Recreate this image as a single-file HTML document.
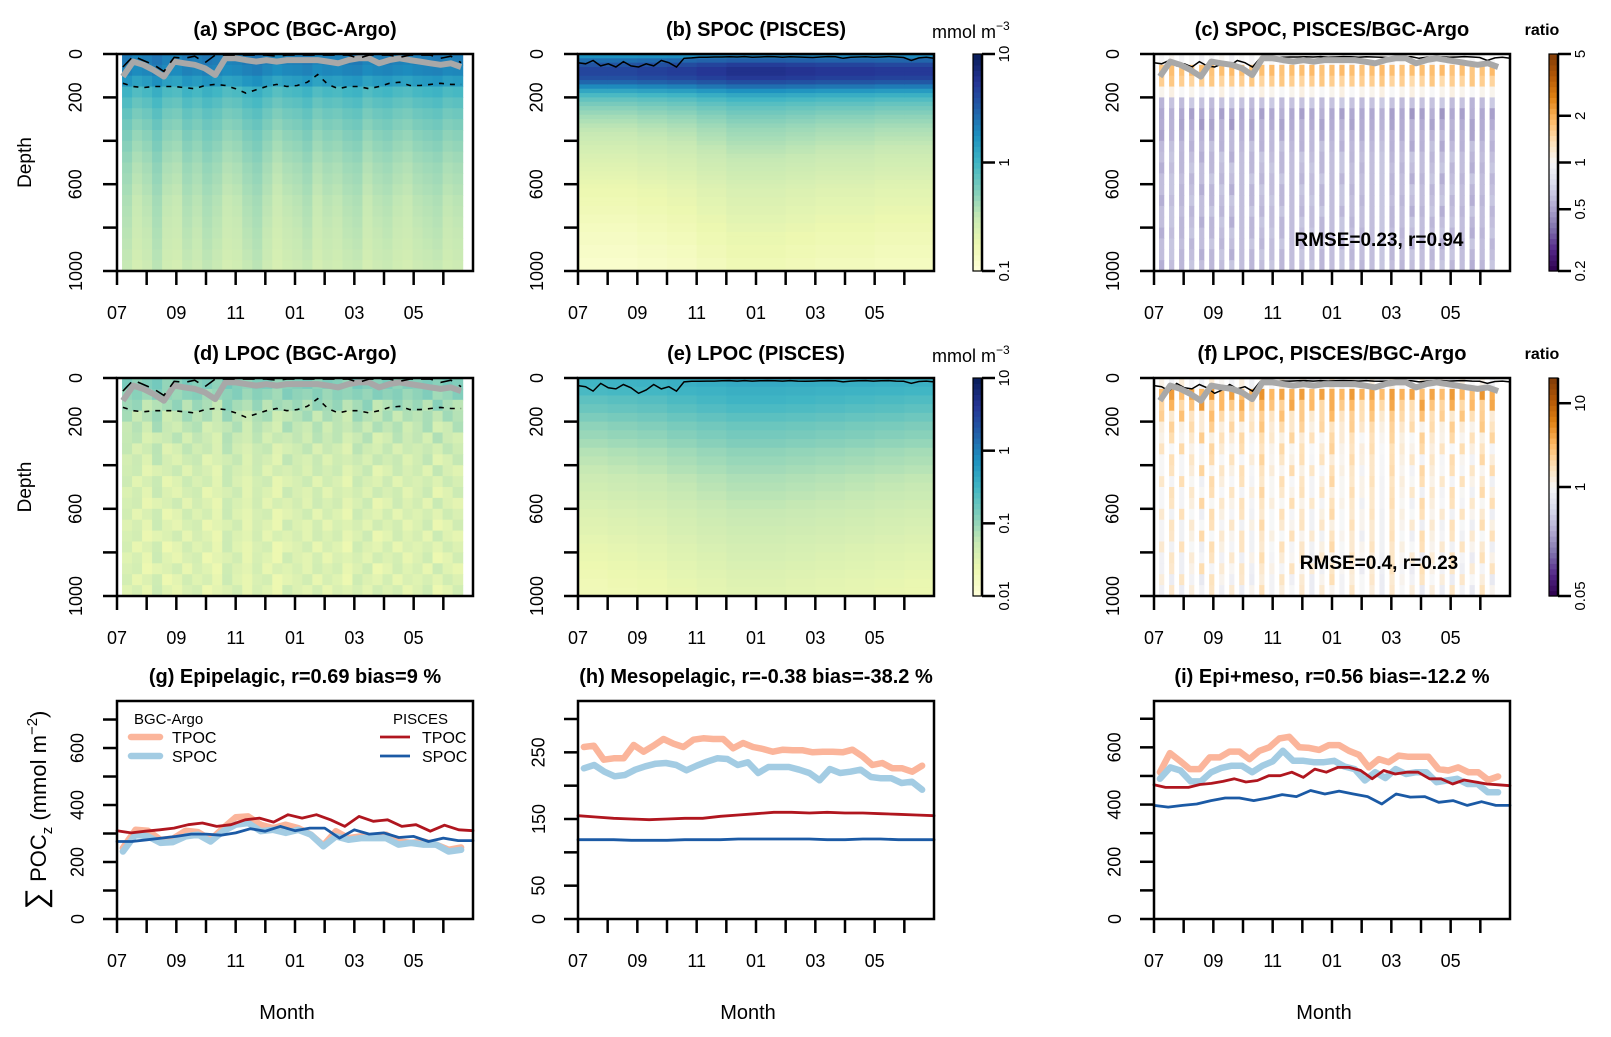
<!DOCTYPE html>
<html><head><meta charset="utf-8">
<style>
html,body{margin:0;padding:0;background:#fff;}
svg{display:block;font-family:"Liberation Sans",Arial,sans-serif;}
</style></head>
<body>
<svg id="fig" width="1611" height="1037" viewBox="0 0 1611 1037" xmlns="http://www.w3.org/2000/svg"></svg>
<script>
// ---------- DATA ----------
const monthLabels = ["07","09","11","01","03","05"];
const depthLabels = ["0","200","","600","","1000"];
const depthTicks = [0,200,400,600,800,1000];

// SPOC BGC-Argo (mmol m-3): depth profile (50 m bins) and column modulation
const spocArgoProfile = [2.2,2.0,1.5,0.95,0.78,0.66,0.58,0.52,0.48,0.44,0.41,0.39,0.37,0.35,0.34,0.33,0.32,0.31,0.3,0.29];
const spocArgoCol = [1.1,0.9,1.0,1.2,0.95,0.9,1.1,1.0,1.15,1.05,0.9,0.95,1.1,1.2,1.0,0.85,0.95,1.0,1.1,0.9,1.0,0.95,1.05,1.1,0.9,1.0,1.05,0.95,0.9,1.0,1.05,1.1,0.95,1.0];
// SPOC PISCES (20 m bins) and monthly modulation
const spocPiscesProfile = [2.0,3.0,4.5,5.5,5.5,4.8,3.6,2.4,1.6,1.15,0.9,0.75,0.65,0.58,0.52,0.48,0.44,0.41,0.39,0.37,0.35,0.33,0.32,0.3,0.29,0.28,0.27,0.26,0.25,0.24,0.23,0.22,0.22,0.21,0.21,0.2,0.2,0.19,0.19,0.18,0.18,0.17,0.17,0.17,0.16,0.16,0.16,0.15,0.15,0.15];
const spocPiscesCol = [0.8,0.8,0.85,0.9,1,1.1,1.1,1.05,1,1,0.95,0.95];
// LPOC BGC-Argo
const lpocArgoProfile = [0.13,0.11,0.085,0.07,0.06,0.053,0.048,0.045,0.042,0.04,0.039,0.038,0.037,0.036,0.036,0.035,0.035,0.035,0.035,0.035];
const lpocArgoCol = [1.3,0.7,1.0,1.5,0.6,0.8,1.4,0.9,1.2,0.7,1.6,0.9,0.7,1.1,1.3,0.6,0.8,1.0,1.4,0.7,1.2,0.9,0.6,1.5,1.0,0.8,1.3,0.7,1.1,0.9,1.2,0.8,1.4,1.0];
// LPOC PISCES
const lpocPiscesProfile = [0.4,0.35,0.3,0.25,0.2,0.16,0.14,0.12,0.1,0.09,0.08,0.07,0.065,0.06,0.055,0.05,0.047,0.044,0.041,0.038,0.036,0.034,0.032,0.03,0.029];
const lpocPiscesCol = [0.7,0.75,0.8,0.9,1.0,1.1,1.1,1.05,1.0,0.95,0.9,0.85];
// Ratios PISCES/BGC-Argo
const spocRatioProfile = [1.0,1.8,1.6,1.05,0.62,0.52,0.53,0.56,0.58,0.6,0.6,0.6,0.6,0.6,0.6,0.6,0.6,0.6,0.6,0.6];
const spocRatioCol = [1,1.05,0.95,1,0.9,0.95,1.05,0.9,1,0.95,1.05,1,0.95,1,1.05,1,0.95,1,1.05,0.95,1,1,1.05,0.95,1,1.05,1,0.95,1,1.05,1,0.95,1,1];
const lpocRatioProfile = [1.0,3.5,2.5,1.8,1.5,1.35,1.25,1.2,1.2,1.15,1.15,1.15,1.1,1.1,1.1,1.1,1.05,1.05,1.0,1.0];
const lpocRatioCol = [1.3,0.8,1.6,0.9,0.75,1.7,1.1,0.85,1.5,0.8,1.3,0.9,1.6,0.85,1.4,0.8,1.1,1.8,0.9,1.3,1.0,1.5,0.8,1.4,1.1,0.9,1.6,1.0,1.3,0.8,1.5,1.0,1.3,0.75];

// overlay depths (m)
const euphoticDepth = [104,35,50,74,104,35,43,50,66,97,20,20,28,35,28,35,28,28,28,28,35,43,28,20,20,43,28,20,28,35,43,50,43,60];
const mldDash = [60,10,30,50,80,15,20,10,40,5,5,5,5,5,5,10,5,5,5,5,5,5,5,20,5,5,5,15,5,5,5,20,10,40];
const mldDot = [135,150,155,150,150,150,155,160,145,140,145,160,180,165,150,140,150,145,130,95,140,160,150,150,160,150,135,130,145,145,140,135,140,140];
const mldPisces = [40,45,30,55,45,60,35,55,60,45,55,30,40,60,20,18,15,15,14,14,13,14,12,15,14,12,13,15,13,14,15,16,14,12,13,20,15,14,13,15,14,12,14,16,30,18,15,20];
const mldPiscesL = [35,40,60,25,45,50,30,45,70,55,30,50,40,60,18,15,15,14,14,13,12,14,12,14,13,12,13,14,12,14,15,14,13,12,13,18,14,13,12,14,13,12,14,15,25,16,14,18];

// integrated POC (mmol m-2)
const gArgoT = [249,313,310,278,282,310,305,278,319,357,360,331,319,331,319,296,258,308,284,290,290,296,272,267,272,261,243,251];
const gArgoS = [237,296,290,267,270,290,296,272,308,331,337,308,313,302,313,296,255,290,278,284,284,284,261,267,261,261,237,243];
const gPisT = [310,302,308,313,319,331,337,325,331,348,354,340,366,354,366,348,325,360,343,348,325,331,308,329,313,310];
const gPisS = [272,272,278,284,290,298,298,294,302,317,308,325,310,319,319,284,313,298,302,286,290,272,284,275,275];
const hArgoT = [258,260,239,241,241,261,251,260,270,263,258,269,271,270,270,256,264,258,255,251,254,253,253,250,251,251,250,254,244,231,234,226,226,221,230];
const hArgoS = [226,231,221,214,216,224,229,233,234,231,223,230,236,241,240,231,235,219,228,228,228,224,219,208,225,219,221,224,213,211,211,204,206,194];
const hPisT = [155,153,151,150,149,150,151,151,154,156,158,160,160,159,160,159,159,158,157,156,155];
const hPisS = [119,119,119,118,118,118,119,119,119,120,120,120,120,120,119,119,120,120,119,119,119];
const iArgoT = [513,580,553,524,524,565,565,585,585,559,588,600,631,637,600,598,591,608,608,588,574,530,559,548,571,567,567,567,524,519,530,513,513,486,498];
const iArgoS = [490,530,519,481,481,513,528,536,536,513,536,551,588,553,553,548,548,553,533,524,484,513,493,524,507,513,513,478,484,490,472,472,443,443];
const iPisT = [469,460,460,460,470,474,481,490,479,484,501,501,513,495,524,513,530,530,519,490,519,507,513,513,490,490,472,486,479,472,469,466];
const iPisS = [397,391,397,402,414,423,423,414,423,435,428,449,437,447,437,428,402,437,426,428,408,414,397,410,397,397];

// ---------- HELPERS ----------
const svg = document.getElementById('fig');
const NS = 'http://www.w3.org/2000/svg';
function mk(tag, attrs, parent){ const e=document.createElementNS(NS,tag); for(const k in attrs) e.setAttribute(k,attrs[k]); (parent||svg).appendChild(e); return e; }
function txt(s, x, y, size, opts, parent){ opts=opts||{}; const t=mk('text',{x:x,y:y,'font-size':size,'text-anchor':opts.anchor||'middle','font-weight':opts.bold?'bold':'normal',fill:'#000'},parent); if(opts.rot) t.setAttribute('transform','rotate('+opts.rot+' '+x+' '+y+')'); t.textContent=s; return t; }
function hex2rgb(h){return [parseInt(h.substr(1,2),16),parseInt(h.substr(3,2),16),parseInt(h.substr(5,2),16)];}
function ramp(stops, f){ f=Math.max(0,Math.min(1,f)); const p=f*(stops.length-1); const i=Math.min(stops.length-2,Math.floor(p)); const u=p-i; const a=hex2rgb(stops[i]), b=hex2rgb(stops[i+1]); return 'rgb('+a.map((v,k)=>Math.round(v+(b[k]-v)*u)).join(',')+')'; }
const YGB = ['#ffffd9','#edf8b1','#c7e9b4','#7fcdbb','#41b6c4','#1d91c0','#225ea8','#253494','#081d58'];
const PUOR = ['#2d004b','#542788','#8073ac','#b2abd2','#d8daeb','#f7f7f7','#fee0b6','#fdb863','#e08214','#b35806','#7f3b08'];

const COLS = [[117,473],[578,934],[1154,1510]];
const ROWS = [[54,271],[378,596],[701,919]];

function xScale(c){ const [a,b]=COLS[c]; return t=>a+t/12*(b-a); }
function dScale(r){ const [a,b]=ROWS[r]; return d=>a+d/1000*(b-a); }

function monthAxis(c, r, g){
  const xs=xScale(c); const yb=ROWS[r][1];
  for(let m=0;m<12;m++){ const x=xs(m); mk('line',{x1:x,y1:yb,x2:x,y2:yb+14,stroke:'#000','stroke-width':2.5},g); }
  monthLabels.forEach((l,i)=>{ const tl=txt(l, xs(i*2), yb+48, 18, {}, g);
      });
}
function depthAxis(c, r, g){
  const ds=dScale(r); const xl=COLS[c][0];
  depthTicks.forEach((d,i)=>{ const y=ds(d); mk('line',{x1:xl-14,y1:y,x2:xl,y2:y,stroke:'#000','stroke-width':2.5},g);
    if(depthLabels[i]) txt(depthLabels[i], xl-40, y, 18, {rot:-90}, g).setAttribute('dominant-baseline','middle'); });
}
function box(c,r,g){ mk('rect',{x:COLS[c][0],y:ROWS[r][0],width:COLS[c][1]-COLS[c][0],height:ROWS[r][1]-ROWS[r][0],fill:'none',stroke:'#000','stroke-width':2.5},g); }
function title(s,c,r,g){ const t=txt(s,(COLS[c][0]+COLS[c][1])/2,ROWS[r][0]-18,20,{bold:true},g);   }

function heatmap(g, c, r, profile, colF, t0, t1, colorFn, stripe, expo){
  const xs=xScale(c), ds=dScale(r); const nb=profile.length, nc=colF.length; const dt=(t1-t0)/nc; const dz=1000/nb;
  const ex = expo||1;
  for(let i=0;i<nc;i++){
    const xa=xs(t0+i*dt), xb=xs(t0+(i+1)*dt); const w=(xb-xa)*(stripe?0.52:1)+(stripe?0:0.6);
    for(let j=0;j<nb;j++){
      const f = colF[(i + (j%3===1 ? 7 : (j%3===2 ? 13 : 0)) * (stripe||ex<1 ? 1 : 0)) % nc];
      const v=profile[j]*Math.pow(f, (j<2?0.6:1)*ex);
      const ya=ds(j*dz), yb=ds((j+1)*dz);
      const cell=mk('rect',{x:xa,y:ya,width:w,height:yb-ya+0.6,fill:colorFn(v)},g);
      
      
    }
  }
}
function depthLine(g, c, r, arr, t0, t1, style){
  const xs=xScale(c), ds=dScale(r); const n=arr.length;
  const pts=arr.map((d,i)=>xs(t0+(t1-t0)*i/(n-1)).toFixed(1)+','+ds(d).toFixed(1)).join(' ');
  return mk('polyline',Object.assign({points:pts,fill:'none'},style),g);
}
function seriesLine(g, c, r, arr, t0, t1, ymax, style){
  const xs=xScale(c); const [ya,yb]=ROWS[r]; const ys=v=>yb-v/ymax*(yb-ya); const n=arr.length;
  const pts=arr.map((v,i)=>xs(t0+(t1-t0)*i/(n-1)).toFixed(1)+','+ys(v).toFixed(1)).join(' ');
  return mk('polyline',Object.assign({points:pts,fill:'none','stroke-linejoin':'round','stroke-linecap':'round'},style),g);
}
function colorbar(x, r, colorFn, n, ticks, g, name){
  const [ya,yb]=ROWS[r]; const h=(yb-ya)/n;
  const cb=mk('g',{},g);  
  for(let i=0;i<n;i++) mk('rect',{x:x,y:yb-(i+1)*h,width:9,height:h+0.6,fill:colorFn((i+0.5)/n)},cb);
  mk('rect',{x:x,y:ya,width:9,height:yb-ya,fill:'none',stroke:'#000','stroke-width':1.2},cb);
  mk('line',{x1:x+9,y1:ya,x2:x+9,y2:yb,stroke:'#000','stroke-width':2.5},cb);
  ticks.forEach(([f,l])=>{ const y=yb-f*(yb-ya); mk('line',{x1:x+9,y1:y,x2:x+22,y2:y,stroke:'#000','stroke-width':2.5},cb);
    const t=txt(l,x+32,y,15,{rot:-90},cb); t.setAttribute('dominant-baseline','middle'); });
}

const yg3 = v=>ramp(YGB,(Math.log10(v)+1)/2);
const yg4 = v=>ramp(YGB,(Math.log10(v)+2)/3);
const pr5 = v=>ramp(PUOR,0.5+Math.log10(v)/(2*Math.log10(5)));
const pr20 = v=>ramp(PUOR,0.5+Math.log10(v)/(2*Math.log10(20)));

function heatPanel(name, c, r, ttl, profile, colF, t0, t1, colorFn, stripe, expo){
  const g=mk('g',{});  
  heatmap(g,c,r,profile,colF,t0,t1,colorFn,stripe,expo);
  title(ttl,c,r,g); return g;
}
// (a)
let g=heatPanel('panel-a-spoc-argo',0,0,'(a) SPOC (BGC-Argo)',spocArgoProfile,spocArgoCol,0.17,11.65,yg3,false);
depthLine(g,0,0,euphoticDepth,0.2,11.6,{stroke:'#a8a8a8','stroke-width':6,'stroke-linejoin':'round'});
depthLine(g,0,0,mldDash,0.2,11.6,{stroke:'#000','stroke-width':1.6,'stroke-dasharray':'12 8'});
depthLine(g,0,0,mldDot,0.2,11.6,{stroke:'#000','stroke-width':1.6,'stroke-dasharray':'5 6'});
box(0,0,g); depthAxis(0,0,g); monthAxis(0,0,g);
// (b)
g=heatPanel('panel-b-spoc-pisces',1,0,'(b) SPOC (PISCES)',spocPiscesProfile,spocPiscesCol,0,12,yg3,false);
depthLine(g,1,0,mldPisces,0,12,{stroke:'#000','stroke-width':1.5});
box(1,0,g); depthAxis(1,0,g); monthAxis(1,0,g);
// (c)
g=heatPanel('panel-c-spoc-ratio',2,0,'(c) SPOC, PISCES/BGC-Argo',spocRatioProfile,spocRatioCol,0.17,11.65,pr5,true);
depthLine(g,2,0,mldPisces,0,12,{stroke:'#000','stroke-width':1.5});
depthLine(g,2,0,euphoticDepth,0.2,11.6,{stroke:'#a8a8a8','stroke-width':6,'stroke-linejoin':'round'});
box(2,0,g); depthAxis(2,0,g); monthAxis(2,0,g);
let st=txt('RMSE=0.23, r=0.94',1379,246,19,{bold:true},g);  
// (d)
g=heatPanel('panel-d-lpoc-argo',0,1,'(d) LPOC (BGC-Argo)',lpocArgoProfile,lpocArgoCol,0.17,11.65,yg4,false,0.75);
depthLine(g,0,1,euphoticDepth,0.2,11.6,{stroke:'#a8a8a8','stroke-width':6,'stroke-linejoin':'round'});
depthLine(g,0,1,mldDash,0.2,11.6,{stroke:'#000','stroke-width':1.6,'stroke-dasharray':'12 8'});
depthLine(g,0,1,mldDot,0.2,11.6,{stroke:'#000','stroke-width':1.6,'stroke-dasharray':'5 6'});
box(0,1,g); depthAxis(0,1,g); monthAxis(0,1,g);
// (e)
g=heatPanel('panel-e-lpoc-pisces',1,1,'(e) LPOC (PISCES)',lpocPiscesProfile,lpocPiscesCol,0,12,yg4,false);
depthLine(g,1,1,mldPiscesL,0,12,{stroke:'#000','stroke-width':1.5});
box(1,1,g); depthAxis(1,1,g); monthAxis(1,1,g);
// (f)
g=heatPanel('panel-f-lpoc-ratio',2,1,'(f) LPOC, PISCES/BGC-Argo',lpocRatioProfile,lpocRatioCol,0.17,11.65,pr20,true);
depthLine(g,2,1,mldPiscesL,0,12,{stroke:'#000','stroke-width':1.5});
depthLine(g,2,1,euphoticDepth,0.2,11.6,{stroke:'#a8a8a8','stroke-width':6,'stroke-linejoin':'round'});
box(2,1,g); depthAxis(2,1,g); monthAxis(2,1,g);
st=txt('RMSE=0.4, r=0.23',1379,569,19,{bold:true},g);  

[0,1].forEach(r=>{ const t=txt('Depth',26,(ROWS[r][0]+ROWS[r][1])/2,19,{rot:-90}); t.setAttribute('dominant-baseline','middle');
    });

colorbar(973,0,f=>ramp(YGB,f),40,[[1,'10'],[0.5,'1'],[0,'0.1']],svg,'colorbar-spoc');
colorbar(973,1,f=>ramp(YGB,f),40,[[1,'10'],[2/3,'1'],[1/3,'0.1'],[0,'0.01']],svg,'colorbar-lpoc');
const l5=Math.log10(5);
colorbar(1549,0,f=>ramp(PUOR,f),40,[[1,'5'],[0.5+Math.log10(2)/(2*l5),'2'],[0.5,'1'],[0.5-Math.log10(2)/(2*l5),'0.5'],[0,'0.2']],svg,'colorbar-spoc-ratio');
const l20=Math.log10(20);
colorbar(1549,1,f=>ramp(PUOR,f),40,[[0.5+1/(2*l20),'10'],[0.5,'1'],[0,'0.05']],svg,'colorbar-lpoc-ratio');
[0,1].forEach(r=>{
  const u=mk('text',{x:932,y:ROWS[r][0]-16,'font-size':18});  
  u.appendChild(document.createTextNode('mmol m'));
  const s=mk('tspan',{dy:-8,'font-size':12},u); s.textContent='−3';
  const rt=txt('ratio',1542,ROWS[r][0]-19,16,{bold:true});  
});

const argoT = {stroke:'#fbb59b','stroke-width':6.5};
const argoS = {stroke:'#a3cce3','stroke-width':6.5};
const pisT = {stroke:'#b0161f','stroke-width':2.8};
const pisS = {stroke:'#1b5aa5','stroke-width':2.8};
function linePanel(name,c,ttl,ymax,ticks,labels,data){
  const g=mk('g',{});  
  const [ya,yb]=ROWS[2]; const xl=COLS[c][0];
  const l1=seriesLine(g,c,2,data[0],0.2,11.6,ymax,argoT);  
  const l2=seriesLine(g,c,2,data[1],0.2,11.6,ymax,argoS);  
  const l3=seriesLine(g,c,2,data[2],0,12,ymax,pisT);  
  const l4=seriesLine(g,c,2,data[3],0,12,ymax,pisS);  
  box(c,2,g);
  ticks.forEach((v,i)=>{ const y=yb-v/ymax*(yb-ya); mk('line',{x1:xl-14,y1:y,x2:xl,y2:y,stroke:'#000','stroke-width':2.5},g);
    if(labels[i]) txt(labels[i],xl-38,y,18,{rot:-90},g).setAttribute('dominant-baseline','middle'); });
  monthAxis(c,2,g);
  const t=txt(ttl,(COLS[c][0]+COLS[c][1])/2,683,20,{bold:true},g);  
  const m=txt('Month',(COLS[c][0]+COLS[c][1])/2-8,1019,20,{},g);  
  return g;
}
const tk700=[0,100,200,300,400,500,600,700], lb700=['0','','200','','400','','600',''];
g=linePanel('panel-g-epipelagic',0,'(g) Epipelagic, r=0.69 bias=9 %',765,tk700,lb700,[gArgoT,gArgoS,gPisT,gPisS]);
const lg=mk('g',{},g);  
txt('BGC-Argo',134,724,15,{anchor:'start'},lg);
mk('line',{x1:131,y1:737,x2:160,y2:737,stroke:'#fbb59b','stroke-width':6.5,'stroke-linecap':'round'},lg);
txt('TPOC',172,743,16,{anchor:'start'},lg);
mk('line',{x1:131,y1:756,x2:160,y2:756,stroke:'#a3cce3','stroke-width':6.5,'stroke-linecap':'round'},lg);
txt('SPOC',172,762,16,{anchor:'start'},lg);
txt('PISCES',393,724,15,{anchor:'start'},lg);
mk('line',{x1:380,y1:737,x2:410,y2:737,stroke:'#b0161f','stroke-width':2.8},lg);
txt('TPOC',422,743,16,{anchor:'start'},lg);
mk('line',{x1:380,y1:756,x2:410,y2:756,stroke:'#1b5aa5','stroke-width':2.8},lg);
txt('SPOC',422,762,16,{anchor:'start'},lg);
linePanel('panel-h-mesopelagic',1,'(h) Mesopelagic, r=-0.38 bias=-38.2 %',327,[0,50,100,150,200,250,300],['0','50','','150','','250',''],[hArgoT,hArgoS,hPisT,hPisS]);
linePanel('panel-i-epi-meso',2,'(i) Epi+meso, r=0.56 bias=-12.2 %',762,tk700,lb700,[iArgoT,iArgoS,iPisT,iPisS]);

const yt=mk('text',{x:46,y:810,'font-size':22,'text-anchor':'middle',transform:'rotate(-90 46 810)'});
 
const s1=mk('tspan',{'font-size':30},yt); s1.textContent='∑';
const s2=mk('tspan',{},yt); s2.textContent=' POC';
const s3=mk('tspan',{dy:6,'font-size':15},yt); s3.textContent='z';
const s4=mk('tspan',{dy:-6},yt); s4.textContent=' (mmol m';
const s5=mk('tspan',{dy:-9,'font-size':15},yt); s5.textContent='−2';
const s6=mk('tspan',{dy:9},yt); s6.textContent=')';
</script>
</body></html>
